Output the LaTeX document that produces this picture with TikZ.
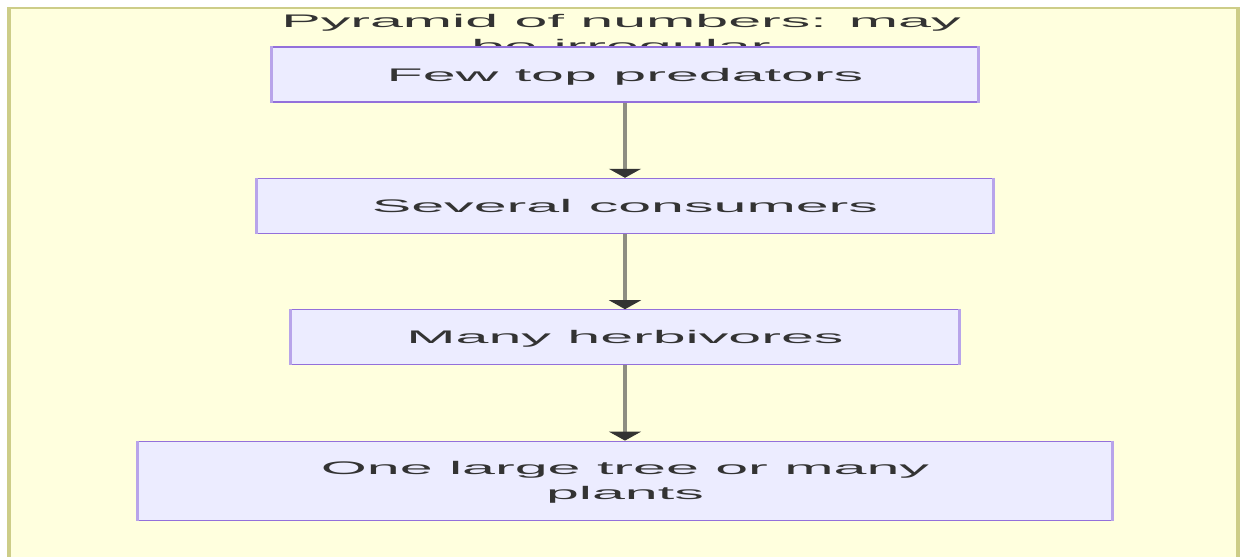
\documentclass[tikz,border=0pt]{standalone}
\usepackage{fontspec}
\setmainfont{Liberation Sans}
\usetikzlibrary{positioning,arrows.meta}
\definecolor{clusterfill}{HTML}{FFFFDE}
\definecolor{clusterline}{HTML}{CDCD88}
\definecolor{boxfill}{HTML}{ECECFF}
\definecolor{boxline}{HTML}{9370DB}
\definecolor{boxside}{HTML}{B8A4EA}
\definecolor{edgegray}{HTML}{8E8E82}
\definecolor{textgray}{HTML}{333333}
\newcommand{\wide}[1]{\scalebox{3.25}[1]{#1}}

\begin{document}
\begin{tikzpicture}[x=0.5pt,y=-0.5pt,
  every node/.style={font=\fontsize{9.1}{12.5}\selectfont,text=textgray},
  level/.style={draw=boxline,fill=boxfill,line width=0.6pt,minimum height=27.5pt,inner sep=0pt,
    text height=6.5pt,text depth=0pt,align=center},
  flow/.style={edgegray,line width=2.2pt,-{Triangle[width=16pt,length=4.5pt,color=textgray]}},
  node distance=37.6pt]
\useasboundingbox (0,0) rectangle (1243,557);
\clip (0,0) rectangle (1243,557);
\draw[clusterline,fill=clusterfill,line width=1pt] (8,8) rectangle (1239,590);
\draw[clusterline,line width=2pt] (9,8)--(9,590) (1238,8)--(1238,590);
\node[anchor=north,inner sep=0pt,align=center] (title) at (621,14) {\wide{Pyramid of numbers: may}\\\wide{be irregular}};
\node[level,minimum width=353pt] (pred) at (625,74.5) {\wide{Few top predators}};
\node[level,minimum width=367.5pt,below=of pred] (cons) {\wide{Several consumers}};
\node[level,minimum width=334pt,below=of cons] (herb) {\wide{Many herbivores}};
\node[level,minimum width=487pt,minimum height=39.5pt,text height=19pt,below=of herb] (base) {\wide{One large tree or many}\\\wide{plants}};
\foreach \n in {pred,cons,herb,base}
  \draw[boxside,line width=1.5pt] (\n.north west)--(\n.south west) (\n.north east)--(\n.south east);
\draw[flow] (pred)--(cons);
\draw[flow] (cons)--(herb);
\draw[flow] (herb)--(base);
\end{tikzpicture}
\end{document}
